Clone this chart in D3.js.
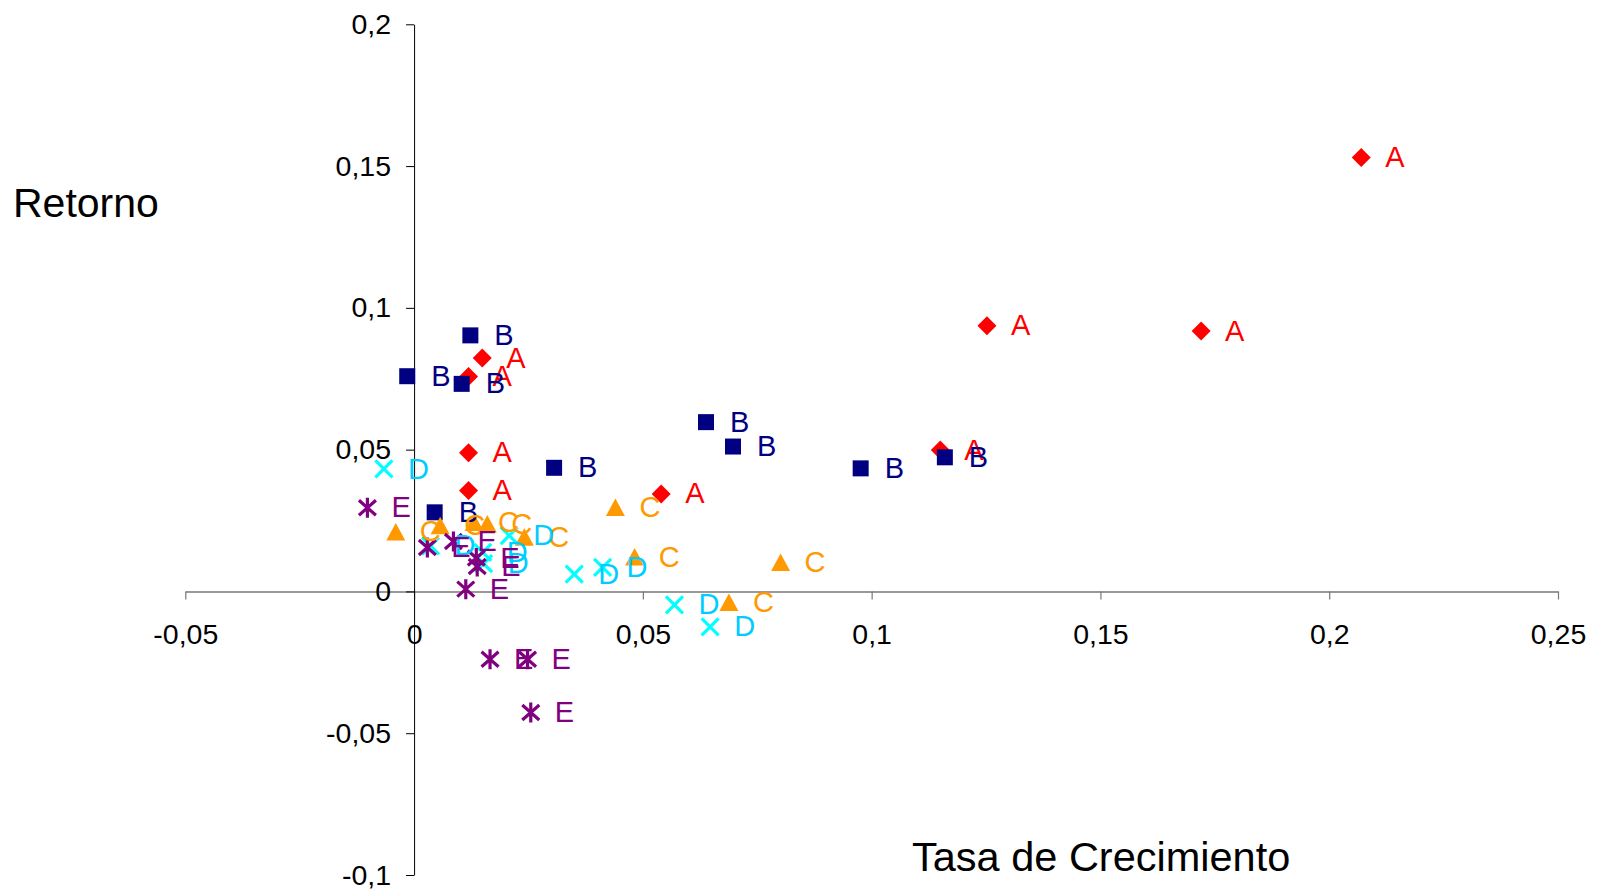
<!DOCTYPE html>
<html>
<head>
<meta charset="utf-8">
<script src="https://cdn.jsdelivr.net/npm/d3@7/dist/d3.min.js"></script>
<style>
  html, body { margin: 0; padding: 0; background: #fff; }
  svg { display: block; font-family: "Liberation Sans", Arial, sans-serif; }
</style>
</head>
<body>
<svg id="chart" width="1598" height="889"></svg>
<script>
// ---- data (x = Tasa de Crecimiento, y = Retorno) ----
const seriesNames = ["A", "B", "C", "D", "E"];
const xTicks = [-0.05, 0, 0.05, 0.1, 0.15, 0.2, 0.25];
const yTicks = [-0.1, -0.05, 0, 0.05, 0.1, 0.15, 0.2];

const seriesA = [
  [0.207, 0.153], [0.1252, 0.0937], [0.172, 0.0918], [0.115, 0.0499],
  [0.054, 0.0344], [0.0149, 0.0823], [0.0119, 0.0758], [0.0119, 0.0489], [0.0119, 0.0356]
];
const seriesB = [
  [0.0123, 0.0903], [-0.0015, 0.0759], [0.0104, 0.0732], [0.0306, 0.0436],
  [0.0045, 0.0279], [0.0638, 0.0597], [0.0697, 0.0511], [0.0976, 0.0434], [0.116, 0.0473]
];
const seriesC = [
  [-0.004, 0.021], [0.0057, 0.0232], [0.0131, 0.0243], [0.016, 0.0238],
  [0.0241, 0.0191], [0.044, 0.0296], [0.0482, 0.0121], [0.0801, 0.0102], [0.0688, -0.0039]
];
const seriesD = [
  [-0.0066, 0.0432], [0.0036, 0.0161], [0.015, 0.0138], [0.0152, 0.0098],
  [0.0208, 0.0197], [0.035, 0.0061], [0.0412, 0.0085], [0.0569, -0.0047], [0.0647, -0.0125]
];
const seriesE = [
  [-0.0102, 0.0295], [0.0029, 0.0155], [0.0086, 0.0176], [0.0136, 0.0118],
  [0.0138, 0.0088], [0.0113, 0.0008], [0.0166, -0.0239], [0.0248, -0.0239], [0.0255, -0.0427]
];
const seriesValues = [seriesA, seriesB, seriesC, seriesD, seriesE];

// ---- styles ----
const markerColor = { A: "#FF0000", B: "#000080", C: "#FF9900", D: "#00FFFF", E: "#800080" };
const labelColor  = { A: "#FF0000", B: "#000080", C: "#FF9900", D: "#00CCFF", E: "#800080" };

const svg = d3.select("#chart");
const x = d3.scaleLinear().domain([-0.05, 0.25]).range([185.3, 1558]);
const y = d3.scaleLinear().domain([-0.1, 0.2]).range([875, 24.3]);
const fmt = d => String(+d.toFixed(4)).replace(".", ",");

// custom symbol types
const symDiamond = { draw(c) { const r = 9.5; c.moveTo(0, -r); c.lineTo(r, 0); c.lineTo(0, r); c.lineTo(-r, 0); c.closePath(); } };
const symSquare  = { draw(c) { const h = 8; c.moveTo(-h, -h); c.lineTo(h, -h); c.lineTo(h, h); c.lineTo(-h, h); c.closePath(); } };
const symTri     = { draw(c) { c.moveTo(0, -9); c.lineTo(9.5, 8.5); c.lineTo(-9.5, 8.5); c.closePath(); } };
const symX       = { draw(c) { const h = 8.5; c.moveTo(-h, -h); c.lineTo(h, h); c.moveTo(h, -h); c.lineTo(-h, h); } };
const symStar    = { draw(c) { c.moveTo(-8.5, -7.5); c.lineTo(8.5, 7.5); c.moveTo(8.5, -7.5); c.lineTo(-8.5, 7.5); c.moveTo(0, -10); c.lineTo(0, 10); } };
const symbols = { A: symDiamond, B: symSquare, C: symTri, D: symX, E: symStar };
const filled = { A: true, B: true, C: true, D: false, E: false };

// ---- axes ----
const xAxis = d3.axisBottom(x).tickValues(xTicks).tickFormat(fmt).tickSize(8).tickSizeOuter(0).tickPadding(24);
const gx = svg.append("g").attr("transform", `translate(0,${y(0)})`).call(xAxis);
gx.select(".domain").attr("stroke", "#777").attr("stroke-width", 1.6);
gx.selectAll(".tick line").attr("stroke", "#777").attr("stroke-width", 1.2);
gx.selectAll(".tick text").attr("font-size", 28.5).attr("fill", "#000").attr("font-family", "Liberation Sans, Arial, sans-serif");

const yAxis = d3.axisLeft(y).tickValues(yTicks).tickFormat(fmt).tickSize(8).tickSizeOuter(0).tickPadding(15);
const gy = svg.append("g").attr("transform", `translate(${x(0)},0)`).call(yAxis);
gy.select(".domain").attr("stroke", "#000").attr("stroke-width", 1);
gy.selectAll(".tick line").attr("stroke", "#000").attr("stroke-width", 1);
gy.selectAll(".tick text").attr("font-size", 28.5).attr("fill", "#000").attr("font-family", "Liberation Sans, Arial, sans-serif");

// ---- axis titles ----
svg.append("text").attr("x", 13).attr("y", 217).attr("font-size", 41).attr("fill", "#000").text("Retorno");
svg.append("text").attr("x", 912).attr("y", 871).attr("font-size", 41.5).attr("fill", "#000").text("Tasa de Crecimiento");

// ---- markers ----
const gm = svg.append("g");
seriesNames.forEach((name, i) => {
  const sym = d3.symbol().type(symbols[name]);
  gm.selectAll(null).data(seriesValues[i]).join("path")
    .attr("d", sym)
    .attr("transform", d => `translate(${x(d[0])},${y(d[1])})`)
    .attr("fill", filled[name] ? markerColor[name] : "none")
    .attr("stroke", filled[name] ? "none" : markerColor[name])
    .attr("stroke-width", filled[name] ? 0 : 3.2);
});

// ---- data labels ----
const gl = svg.append("g");
seriesNames.forEach((name, i) => {
  gl.selectAll(null).data(seriesValues[i]).join("text")
    .attr("x", d => x(d[0]) + 24)
    .attr("y", d => y(d[1]))
    .attr("dy", "0.33em")
    .attr("font-size", 29)
    .attr("fill", labelColor[name])
    .text(name);
});
</script>
</body>
</html>
